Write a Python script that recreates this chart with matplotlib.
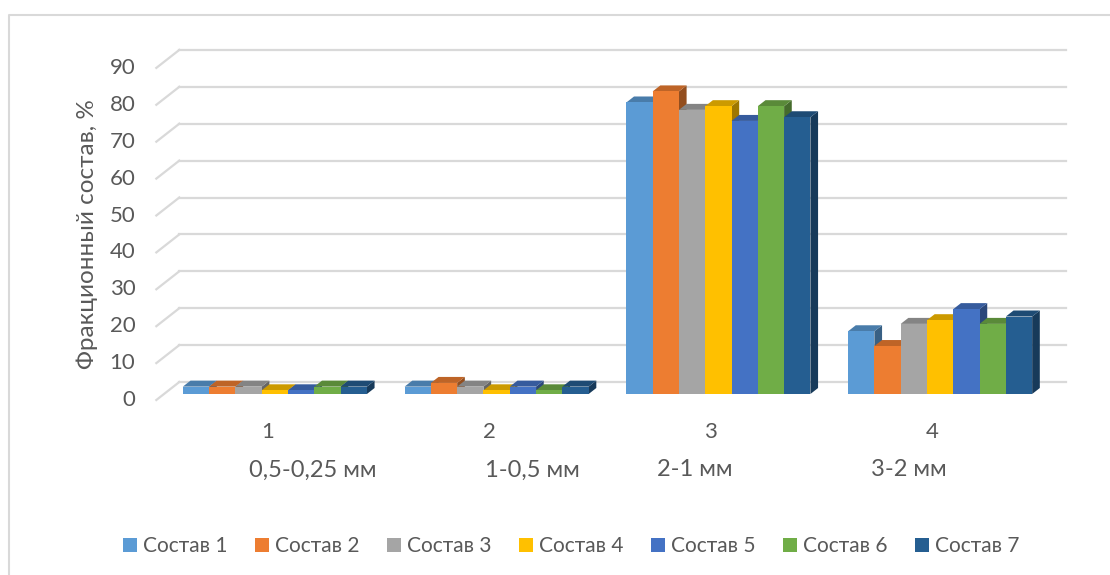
import matplotlib
matplotlib.use("Agg")
import matplotlib.pyplot as plt
from matplotlib.patches import Polygon, Patch
from matplotlib.colors import to_rgb
from matplotlib.lines import Line2D

# ---- data -------------------------------------------------------------
categories = ["1", "2", "3", "4"]
fraction_labels = ["0,5-0,25 мм", "1-0,5 мм", "2-1 мм", "3-2 мм"]
series_names = ["Состав 1", "Состав 2", "Состав 3", "Состав 4",
                "Состав 5", "Состав 6", "Состав 7"]
sostav_1 = [2, 2, 79, 17]
sostav_2 = [2, 3, 82, 13]
sostav_3 = [2, 2, 77, 19]
sostav_4 = [1, 1, 78, 20]
sostav_5 = [1, 2, 74, 23]
sostav_6 = [2, 1, 78, 19]
sostav_7 = [2, 2, 75, 21]
y_ticks = [0, 10, 20, 30, 40, 50, 60, 70, 80, 90]

series_values = [sostav_1, sostav_2, sostav_3, sostav_4,
                 sostav_5, sostav_6, sostav_7]
colors = ["#5B9BD5", "#ED7D31", "#A5A5A5", "#FFC000",
          "#4472C4", "#70AD47", "#255E91"]

TEXT = "#595959"
GRID = "#D9D9D9"
FONT = "Lato"
plt.rcParams["font.family"] = [FONT, "DejaVu Sans"]

W, H = 1110, 575
fig = plt.figure(figsize=(W / 100, H / 100), dpi=100)
fig.patch.set_facecolor("white")

# axes = the plane that holds the front faces of the columns
ax_l, ax_r, ax_b, ax_h = 164, 1051, 394, 332.1
ax = fig.add_axes([ax_l / W, (H - ax_b) / H, (ax_r - ax_l) / W, ax_h / H])
ax.set_xlim(-0.5, len(categories) - 0.5)
ax.set_ylim(0, 90)
ax.axis("off")

# oblique depth of the whole box in pixels; columns take its middle third
DEPTH_X, DEPTH_Y = 23.0, 18.0
px_x = (ax_r - ax_l) / (len(categories))
px_y = ax_h / 90.0
ddx = DEPTH_X / 3 / px_x
ddy = DEPTH_Y / 3 / px_y

x0, x1 = -0.5, len(categories) - 0.5

# back wall gridlines and side-wall slants
for v in y_ticks:
    ax.add_line(Line2D([x0 + 2 * ddx, x1 + 2 * ddx], [v + 2 * ddy] * 2,
                       color=GRID, lw=1.6, clip_on=False, zorder=1))
    ax.add_line(Line2D([x0 - ddx, x0 + 2 * ddx], [v - ddy, v + 2 * ddy],
                       color=GRID, lw=1.6, clip_on=False, zorder=1))


def shade(c, f):
    r, g, b = to_rgb(c)
    return (r * f, g * f, b * f)


n = len(series_values)
bw = 0.83 / n
z = 10
for k, (vals, c) in enumerate(zip(series_values, colors)):
    xs = [i + (k - (n - 1) / 2) * bw for i in range(len(categories))]
    bars = ax.bar(xs, vals, width=bw, color=c, zorder=z + 2,
                  clip_on=False, linewidth=0)
    for rect in bars:
        bx, bh, w = rect.get_x(), rect.get_height(), rect.get_width()
        side = Polygon([(bx + w, 0), (bx + w + ddx, ddy),
                        (bx + w + ddx, bh + ddy), (bx + w, bh)],
                       closed=True, facecolor=shade(c, 0.62), edgecolor="none",
                       zorder=z, clip_on=False)
        top = Polygon([(bx, bh), (bx + w, bh), (bx + w + ddx, bh + ddy),
                       (bx + ddx, bh + ddy)],
                      closed=True, facecolor=shade(c, 0.8), edgecolor="none",
                      zorder=z + 1, clip_on=False)
        ax.add_patch(side)
        ax.add_patch(top)
    z += 3

# value axis labels on the front edge of the side wall
for v in y_ticks:
    ax.annotate(str(v), xy=(x0 - ddx, v - ddy), xytext=(-21, 0),
                textcoords="offset pixels", ha="right", va="center",
                fontsize=16, color=TEXT, annotation_clip=False)

# category labels on the front edge of the floor
for i, lab in enumerate(categories):
    ax.annotate(lab, xy=(i - ddx, -ddy), xytext=(0, -32),
                textcoords="offset pixels", ha="center", va="center",
                fontsize=16, color=TEXT, annotation_clip=False)

# fraction sizes under the categories
for xc, lab in zip([313, 532, 695, 909], fraction_labels):
    fig.text(xc / W, 1 - 470 / H, lab, ha="center", va="center",
             fontsize=17, color=TEXT)

fig.text(87 / W, 1 - 234 / H, "Фракционный состав, %", rotation=90,
         ha="center", va="center", fontsize=17.5, color=TEXT)

handles = [Patch(facecolor=c, edgecolor="none", label=s)
           for c, s in zip(colors, series_names)]
fig.legend(handles=handles, loc="center", ncol=n, frameon=False,
           bbox_to_anchor=(571 / W, 1 - 546 / H), fontsize=15,
           handlelength=0.68, handleheight=0.68, handletextpad=0.3,
           columnspacing=1.3, labelcolor=TEXT)

# chart-area frame
fig.add_artist(Line2D([9 / W, 9 / W, 1.0], [0.0, 1 - 15 / H, 1 - 15 / H],
                      transform=fig.transFigure, color=GRID, lw=1.5))

fig.savefig("out.png", dpi=100, facecolor="white")
